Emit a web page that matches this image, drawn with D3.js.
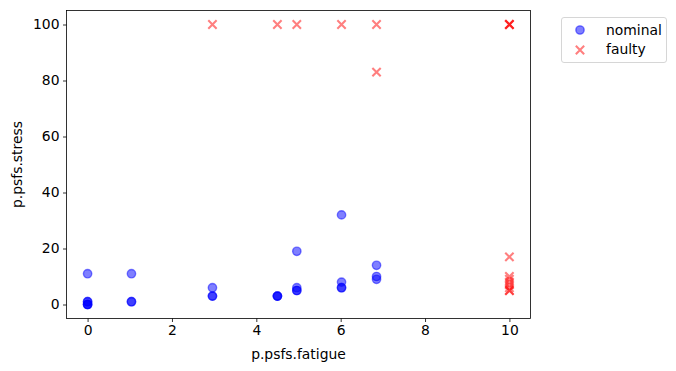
<!DOCTYPE html>
<html><head><meta charset="utf-8">
<script src="https://cdn.jsdelivr.net/npm/d3@7"></script>
<style>body{margin:0;background:#fff}svg{display:block;font-family:"DejaVu Sans",sans-serif}</style>
</head><body><svg id="c" width="676" height="371"></svg>
<script>
const nominalX = [0,0,0,0,0,0, 1.04,1.04,1.04, 2.96,2.96,2.96, 4.5,4.5,4.5, 4.96,4.96,4.96,4.96, 6.02,6.02,6.02,6.02, 6.85,6.85,6.85];
const nominalY = [11,0,0,0,1,1, 11,1,1, 6,3,3, 3,3,3, 19,6,5,5, 32,8,6,6, 14,10,9];
const faultyX = [2.96,4.5,4.96,6.02,6.85,6.85, 10,10,10, 10,10,10,10,10,10,10,10];
const faultyY = [100,100,100,100,100,83, 100,100,100, 17,10,9,8,7,6,5,5];
const xTicks = [0,2,4,6,8,10];
const yTicks = [0,20,40,60,80,100];
const seriesNames = ["nominal","faulty"];

const svg = d3.select("#c");
const L=66.5, R=530.5, T=10.5, B=318.5;
const x = d3.scaleLinear().domain([-0.5,10.5]).range([L,R]);
const y = d3.scaleLinear().domain([-5,105]).range([B,T]);

const g = svg.append("g");
const xa = g.append("g").attr("transform",`translate(0,${B})`).call(d3.axisBottom(x).tickValues(xTicks).tickSize(3.5).tickPadding(3.5));
const ya = g.append("g").attr("transform",`translate(${L},0)`).call(d3.axisLeft(y).tickValues(yTicks).tickSize(3.5).tickPadding(3.5));
[xa,ya].forEach(a=>{a.select(".domain").remove();a.selectAll("text").attr("font-size","13.9px").attr("fill","#000").attr("font-family","DejaVu Sans");a.selectAll("line").attr("stroke","#000").attr("stroke-width",0.8);});

const pts = g.append("g");
nominalX.forEach((v,i)=>{
  pts.append("circle").attr("cx",x(v)).attr("cy",y(nominalY[i])).attr("r",4.17)
    .attr("fill","blue").attr("fill-opacity",0.5).attr("stroke","blue").attr("stroke-opacity",0.5).attr("stroke-width",1.39);
});
const s=4.17;
faultyX.forEach((v,i)=>{
  const cx=x(v), cy=y(faultyY[i]);
  pts.append("path").attr("d",`M${cx-s},${cy-s}L${cx+s},${cy+s}M${cx-s},${cy+s}L${cx+s},${cy-s}`)
    .attr("stroke","red").attr("stroke-opacity",0.5).attr("stroke-width",2.08).attr("fill","none");
});

g.append("rect").attr("x",L).attr("y",T).attr("width",R-L).attr("height",B-T)
  .attr("fill","none").attr("stroke","#000").attr("stroke-width",0.8);

svg.append("text").attr("x",(L+R)/2).attr("y",359).attr("text-anchor","middle").attr("font-size","13.9px").text("p.psfs.fatigue");
svg.append("text").attr("transform",`translate(22,${(T+B)/2}) rotate(-90)`).attr("text-anchor","middle").attr("font-size","13.9px").text("p.psfs.stress");

const lg = svg.append("g");
lg.append("rect").attr("x",561.5).attr("y",17.5).attr("width",105).attr("height",45).attr("rx",2.5)
  .attr("fill","#fff").attr("fill-opacity",0.8).attr("stroke","#ccc").attr("stroke-width",0.8);
lg.append("circle").attr("cx",580).attr("cy",30).attr("r",4.17).attr("fill","blue").attr("fill-opacity",0.5).attr("stroke","blue").attr("stroke-opacity",0.5).attr("stroke-width",1.39);
{const cx=580,cy=50;lg.append("path").attr("d",`M${cx-s},${cy-s}L${cx+s},${cy+s}M${cx-s},${cy+s}L${cx+s},${cy-s}`).attr("stroke","red").attr("stroke-opacity",0.5).attr("stroke-width",2.08);}
lg.append("text").attr("x",606).attr("y",35).attr("font-size","13.9px").text(seriesNames[0]);
lg.append("text").attr("x",606).attr("y",54).attr("font-size","13.9px").text(seriesNames[1]);
</script></body></html>
